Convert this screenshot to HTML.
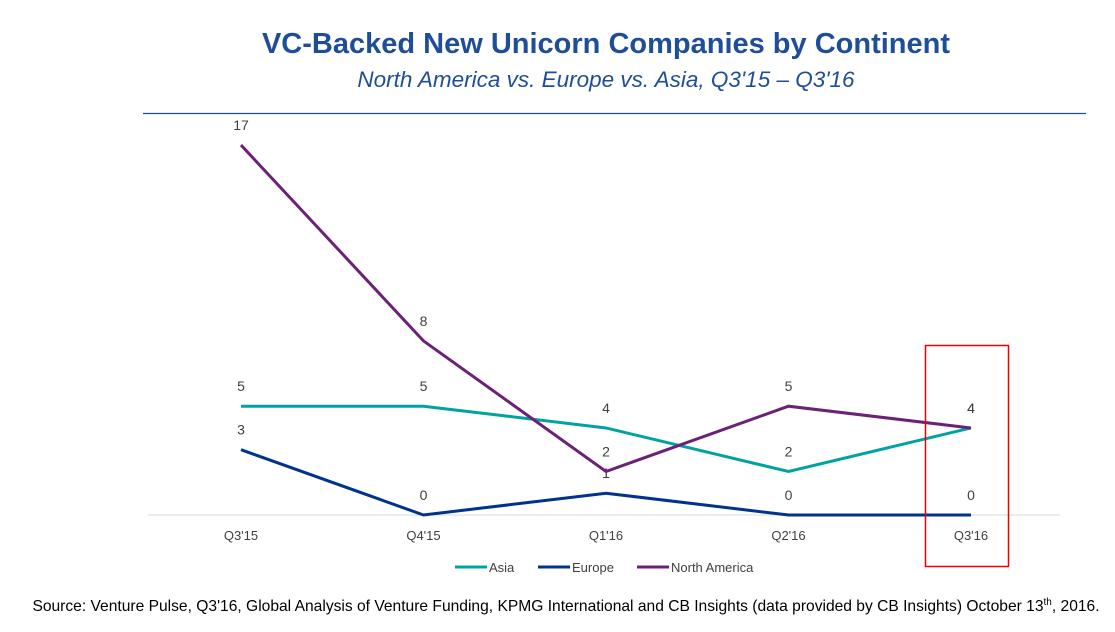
<!DOCTYPE html>
<html><head><meta charset="utf-8"><style>
body{margin:0;width:1115px;height:627px;background:#fff;overflow:hidden;font-family:"Liberation Sans",sans-serif}
</style></head><body>
<svg width="1115" height="627">
<text x="606" y="53" text-anchor="middle" font-size="29" font-weight="bold" fill="#1f4e98">VC-Backed New Unicorn Companies by Continent</text>
<text x="606" y="87" text-anchor="middle" font-size="22.5" font-style="italic" fill="#1f4e98">North America vs. Europe vs. Asia, Q3'15 – Q3'16</text>
<line x1="143" y1="113.5" x2="1086" y2="113.5" stroke="#1f4e98" stroke-width="1.2"/>
<line x1="148" y1="515" x2="1060" y2="515" stroke="#d9d9d9" stroke-width="1"/>
<g id="plot"></g>
<rect x="925.5" y="345.5" width="83" height="221" fill="none" stroke="#e00" stroke-width="1.5"/>
<g font-size="13" fill="#404040">
<line x1="455" y1="567" x2="487" y2="567" stroke="#00a3a1" stroke-width="3"/><text x="489" y="572">Asia</text>
<line x1="538" y1="567" x2="570" y2="567" stroke="#00338d" stroke-width="3"/><text x="572" y="572">Europe</text>
<line x1="637" y1="567" x2="669" y2="567" stroke="#6d2077" stroke-width="3"/><text x="671" y="572">North America</text>
</g>
<text x="566" y="611" text-anchor="middle" font-size="15.6" fill="#000">Source: Venture Pulse, Q3'16, Global Analysis of Venture Funding, KPMG International and CB Insights (data provided by CB Insights) October 13<tspan font-size="10" dy="-6">th</tspan><tspan dy="6">, 2016.</tspan></text>
</svg>
<script>
const categories=["Q3'15","Q4'15","Q1'16","Q2'16","Q3'16"];
const asia=[5,5,4,2,4];
const europe=[3,0,1,0,0];
const northAmerica=[17,8,2,5,4];
const x=i=>241+i*182.5;
const y=v=>515-v*21.76;
const g=document.getElementById('plot');
const NS='http://www.w3.org/2000/svg';
categories.forEach((c,i)=>{const t=document.createElementNS(NS,'text');
t.setAttribute('x',x(i));t.setAttribute('y',540);t.setAttribute('text-anchor','middle');t.setAttribute('font-size','13');t.setAttribute('fill','#404040');t.textContent=c;


g.appendChild(t);});
[[asia,'#00a3a1','asia'],[europe,'#00338d','europe'],[northAmerica,'#6d2077','north-america']].forEach(([d,col,n])=>{
const p=document.createElementNS(NS,'polyline');
p.setAttribute('points',d.map((v,i)=>x(i)+','+y(v)).join(' '));
p.setAttribute('fill','none');p.setAttribute('stroke',col);p.setAttribute('stroke-width','3');


g.appendChild(p);
d.forEach((v,i)=>{const t=document.createElementNS(NS,'text');
t.setAttribute('x',x(i));t.setAttribute('y',y(v)-15);t.setAttribute('text-anchor','middle');t.setAttribute('font-size','14');t.setAttribute('fill','#404040');t.textContent=v;


g.appendChild(t);});
});
</script>
</body></html>
